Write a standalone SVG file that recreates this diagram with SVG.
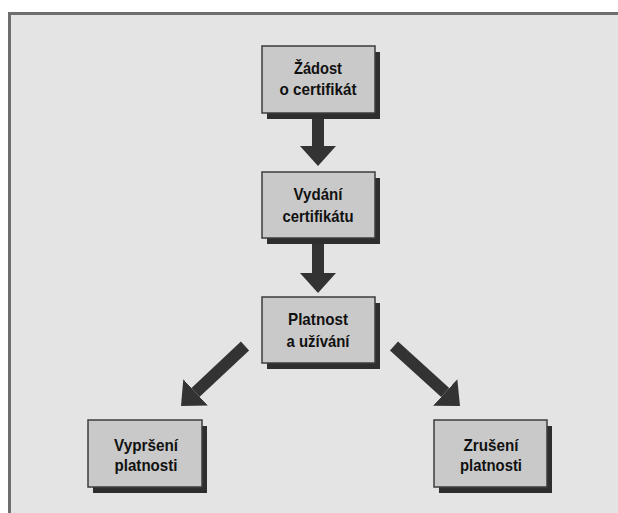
<svg xmlns="http://www.w3.org/2000/svg" width="618" height="513" viewBox="0 0 618 513">
<defs>
<style>
.frame{fill:#e4e4e4;stroke:#6e6e6e;stroke-width:3}
.box{fill:#c9c9c9;stroke:#3c3c3c;stroke-width:1.5}
.shadow{fill:#2e2e2e}
.lbl{font-family:"Liberation Sans",Arial,sans-serif;font-weight:bold;font-size:16.5px;fill:#111;text-anchor:middle}
.conn{stroke:#333;stroke-width:12;fill:none;stroke-linecap:butt}
</style>
<marker id="head" markerUnits="userSpaceOnUse" markerWidth="22" markerHeight="38" viewBox="0 -19 22 38" refX="0" refY="0" orient="auto">
<path d="M0,-18 L20,0 L0,18 Z" fill="#333"/>
</marker>
</defs>
<rect x="0" y="0" width="618" height="513" fill="#ffffff"/>
<rect class="frame" x="9.5" y="13.5" width="620" height="510"/>

<g id="connectors">
<line class="conn" x1="318" y1="119" x2="318" y2="146" marker-end="url(#head)"/>
<line class="conn" x1="318" y1="244" x2="318" y2="273" marker-end="url(#head)"/>
<line class="conn" x1="245" y1="346" x2="195.6" y2="392.3" marker-end="url(#head)"/>
<line class="conn" x1="394" y1="346" x2="445.2" y2="392.5" marker-end="url(#head)"/>
</g>

<g id="n1">
<rect class="shadow" x="267" y="52" width="113" height="67"/>
<rect class="box" x="262" y="46" width="113" height="67"/>
<text class="lbl" x="318" y="74" textLength="48" lengthAdjust="spacingAndGlyphs">Žádost</text>
<text class="lbl" x="318" y="95" textLength="77" lengthAdjust="spacingAndGlyphs">o certifikát</text>
</g>

<g id="n2">
<rect class="shadow" x="267" y="178" width="113" height="66"/>
<rect class="box" x="262" y="172" width="113" height="66"/>
<text class="lbl" x="318" y="200" textLength="49" lengthAdjust="spacingAndGlyphs">Vydání</text>
<text class="lbl" x="318" y="221.5" textLength="71" lengthAdjust="spacingAndGlyphs">certifikátu</text>
</g>

<g id="n3">
<rect class="shadow" x="267" y="303" width="113" height="66"/>
<rect class="box" x="262" y="297" width="113" height="66"/>
<text class="lbl" x="318" y="325" textLength="60" lengthAdjust="spacingAndGlyphs">Platnost</text>
<text class="lbl" x="318" y="346.5" textLength="63" lengthAdjust="spacingAndGlyphs">a užívání</text>
</g>

<g id="n4">
<rect class="shadow" x="93" y="426" width="114" height="67"/>
<rect class="box" x="88" y="420" width="114" height="67"/>
<text class="lbl" x="146" y="451" textLength="64" lengthAdjust="spacingAndGlyphs">Vypršení</text>
<text class="lbl" x="146" y="471" textLength="63" lengthAdjust="spacingAndGlyphs">platnosti</text>
</g>

<g id="n5">
<rect class="shadow" x="439" y="426" width="113" height="67"/>
<rect class="box" x="434" y="420" width="113" height="67"/>
<text class="lbl" x="491" y="451" textLength="55" lengthAdjust="spacingAndGlyphs">Zrušení</text>
<text class="lbl" x="491" y="471" textLength="62" lengthAdjust="spacingAndGlyphs">platnosti</text>
</g>
</svg>
